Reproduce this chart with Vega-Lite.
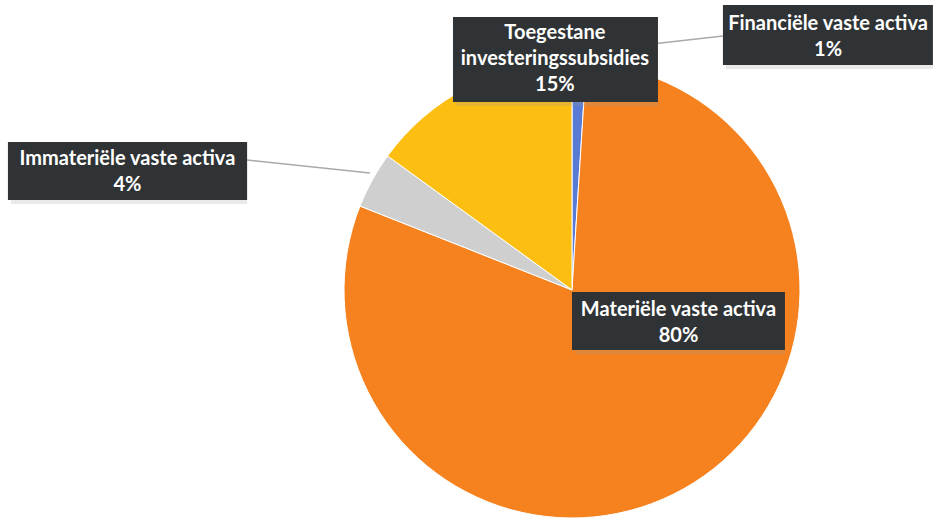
{
  "$schema": "https://vega.github.io/schema/vega-lite/v6.json",
  "width": 936,
  "height": 521,
  "padding": 0,
  "autosize": {"type": "fit", "contains": "padding"},
  "background": "white",
  "config": {"view": {"stroke": null}},
  "datasets": {
    "slices": [
      {"cat": "Financiële vaste activa", "pct": 1, "rank": 1},
      {"cat": "Materiële vaste activa", "pct": 80, "rank": 2},
      {"cat": "Immateriële vaste activa", "pct": 4, "rank": 3},
      {"cat": "Toegestane investeringssubsidies", "pct": 15, "rank": 4}
    ],
    "labels": [
      {"label": "Toegestane\ninvesteringssubsidies\n15%", "bx1": -0.522, "bx2": 0.377, "by1": 0.825, "by2": 1.197, "tx": -0.075, "ty": 1.125},
      {"label": "Financiële vaste activa\n1%", "bx1": 0.662, "bx2": 1.583, "by1": 0.987, "by2": 1.25, "tx": 1.123, "ty": 1.167},
      {"label": "Immateriële vaste activa\n4%", "bx1": -2.474, "bx2": -1.425, "by1": 0.395, "by2": 0.649, "tx": -1.95, "ty": 0.575},
      {"label": "Materiële vaste activa\n80%", "bx1": 0.0, "bx2": 0.934, "by1": -0.263, "by2": -0.009, "tx": 0.467, "ty": -0.086}
    ],
    "leaders": [
      {"cat": "Financiële vaste activa", "lx1": 0.079, "ly1": 1.048, "lx2": 0.662, "ly2": 1.114},
      {"cat": "Immateriële vaste activa", "lx1": -1.425, "ly1": 0.57, "lx2": -0.886, "ly2": 0.513}
    ]
  },
  "layer": [
    {
      "data": {"name": "slices"},
      "mark": {
        "type": "arc",
        "x": {"expr": "scale('x', 0)"},
        "y": {"expr": "scale('y', 0)"},
        "outerRadius": {"expr": "scale('x', 1) - scale('x', 0)"},
        "stroke": "white",
        "strokeWidth": 1
      },
      "encoding": {
        "theta": {"field": "pct", "type": "quantitative", "stack": true},
        "order": {"field": "rank", "type": "quantitative"},
        "color": {
          "field": "cat",
          "type": "nominal",
          "scale": {
            "domain": ["Financiële vaste activa", "Materiële vaste activa", "Immateriële vaste activa", "Toegestane investeringssubsidies"],
            "range": ["#5A7BD3", "#F5821F", "#CFCFCF", "#FDBE12"]
          },
          "legend": null
        }
      }
    },
    {
      "data": {"name": "leaders"},
      "mark": {"type": "rule", "color": "#a9a9a9", "strokeWidth": 1.5},
      "encoding": {
        "x": {"field": "lx1", "type": "quantitative", "scale": {"domain": [-2.5088, 1.5965], "nice": false, "zero": false}, "axis": null},
        "y": {"field": "ly1", "type": "quantitative", "scale": {"domain": [-1.0132, 1.2719], "nice": false, "zero": false}, "axis": null},
        "x2": {"field": "lx2"},
        "y2": {"field": "ly2"}
      }
    },
    {
      "data": {"name": "labels"},
      "mark": {"type": "rect", "color": "#9a9a9a", "opacity": 0.22, "xOffset": 3, "yOffset": 4},
      "encoding": {
        "x": {"field": "bx1", "type": "quantitative", "scale": {"domain": [-2.5088, 1.5965], "nice": false, "zero": false}, "axis": null},
        "x2": {"field": "bx2"},
        "y": {"field": "by1", "type": "quantitative", "scale": {"domain": [-1.0132, 1.2719], "nice": false, "zero": false}, "axis": null},
        "y2": {"field": "by2"}
      }
    },
    {
      "data": {"name": "labels"},
      "mark": {"type": "rect", "color": "#2f3335"},
      "encoding": {
        "x": {"field": "bx1", "type": "quantitative", "scale": {"domain": [-2.5088, 1.5965], "nice": false, "zero": false}, "axis": null},
        "x2": {"field": "bx2"},
        "y": {"field": "by1", "type": "quantitative", "scale": {"domain": [-1.0132, 1.2719], "nice": false, "zero": false}, "axis": null},
        "y2": {"field": "by2"}
      }
    },
    {
      "data": {"name": "labels"},
      "mark": {
        "type": "text",
        "color": "white",
        "font": "Lato",
        "fontWeight": "bold",
        "fontSize": 20,
        "lineHeight": 26,
        "lineBreak": "\n",
        "align": "center",
        "baseline": "middle"
      },
      "encoding": {
        "x": {"field": "tx", "type": "quantitative", "scale": {"domain": [-2.5088, 1.5965], "nice": false, "zero": false}, "axis": null},
        "y": {"field": "ty", "type": "quantitative", "scale": {"domain": [-1.0132, 1.2719], "nice": false, "zero": false}, "axis": null},
        "text": {"field": "label"}
      }
    }
  ]
}
